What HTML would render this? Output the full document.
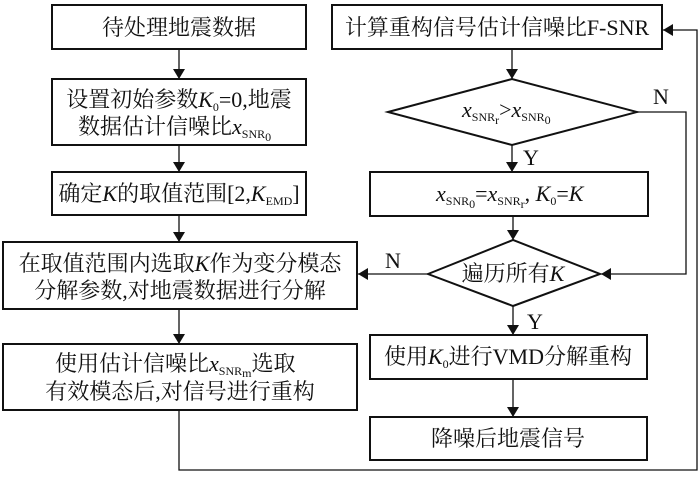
<!DOCTYPE html>
<html><head><meta charset="utf-8"><style>
body{margin:0;background:#fff}
svg text{font-family:"Liberation Serif","Noto Serif CJK SC",serif;font-size:22px;fill:#111}
.s{font-size:12px}
</style></head><body>
<svg width="700" height="474" viewBox="0 0 700 474" xmlns="http://www.w3.org/2000/svg">
<defs><marker id="a" markerWidth="10" markerHeight="12" refX="10" refY="6" orient="auto" markerUnits="userSpaceOnUse"><path d="M0,0 L10,6 L0,12 z" fill="#111"/></marker></defs>
<g fill="none" stroke="#111" stroke-width="2">
<rect x="52" y="5" width="254" height="44"/>
<rect x="52" y="79" width="254" height="66"/>
<rect x="52" y="172" width="254" height="43"/>
<rect x="3" y="242" width="354" height="67"/>
<rect x="3" y="344" width="354" height="66"/>
<rect x="332" y="5" width="330" height="44"/>
<polygon points="388,112 512,79 637,112 512,145"/>
<rect x="370" y="172" width="278" height="44"/>
<polygon points="428,274 513,240 600,274 513,306"/>
<rect x="370" y="335" width="277" height="44"/>
<rect x="370" y="417" width="277" height="43"/>
</g>
<g stroke="#111" stroke-width="1.3" fill="none">
<line x1="179" y1="49" x2="179" y2="79" marker-end="url(#a)"/>
<line x1="179" y1="145" x2="179" y2="172" marker-end="url(#a)"/>
<line x1="179" y1="215" x2="179" y2="242" marker-end="url(#a)"/>
<line x1="179" y1="309" x2="179" y2="344" marker-end="url(#a)"/>
<line x1="512" y1="49" x2="512" y2="79" marker-end="url(#a)"/>
<line x1="512" y1="145" x2="512" y2="172" marker-end="url(#a)"/>
<line x1="513" y1="216" x2="513" y2="240" marker-end="url(#a)"/>
<line x1="513" y1="306" x2="513" y2="335" marker-end="url(#a)"/>
<line x1="513" y1="379" x2="513" y2="417" marker-end="url(#a)"/>
<line x1="428" y1="274" x2="358" y2="274" marker-end="url(#a)"/>
<polyline points="637,112 686,112 686,274 601,274" marker-end="url(#a)"/>
<polyline points="179,410 179,470 697,470 697,30 663,30" marker-end="url(#a)"/>
</g>
<text x="179" y="35" text-anchor="middle">待处理地震数据</text>
<text x="179" y="107" text-anchor="middle">设置初始参数<tspan font-style="italic">K</tspan><tspan class="s" dy="4">0</tspan><tspan dy="-4">=0,地震</tspan></text>
<text x="78" y="134">数据估计信噪比<tspan font-style="italic">x</tspan><tspan class="s" dy="4">SNR</tspan><tspan class="s" dy="3">0</tspan></text>
<text x="179" y="201" text-anchor="middle">确定<tspan font-style="italic">K</tspan>的取值范围[2,<tspan font-style="italic">K</tspan><tspan class="s" dy="4">EMD</tspan><tspan dy="-4">]</tspan></text>
<text x="180" y="271" text-anchor="middle">在取值范围内选取<tspan font-style="italic">K</tspan>作为变分模态</text>
<text x="180" y="298" text-anchor="middle">分解参数,对地震数据进行分解</text>
<text x="55" y="371">使用估计信噪比<tspan font-style="italic">x</tspan><tspan class="s" dy="4">SNR</tspan><tspan class="s" dy="2">m</tspan><tspan dy="-6">选取</tspan></text>
<text x="180" y="399" text-anchor="middle">有效模态后,对信号进行重构</text>
<text x="497" y="35" text-anchor="middle">计算重构信号估计信噪比F-SNR</text>
<text x="462" y="117"><tspan font-style="italic">x</tspan><tspan class="s" dy="4">SNR</tspan><tspan class="s" dy="3">r</tspan><tspan dy="-7">&gt;</tspan><tspan font-style="italic">x</tspan><tspan class="s" dy="4">SNR</tspan><tspan class="s" dy="3">0</tspan></text>
<text x="653" y="104">N</text>
<text x="523" y="165">Y</text>
<text x="436" y="201"><tspan font-style="italic">x</tspan><tspan class="s" dy="4">SNR</tspan><tspan class="s" dy="3">0</tspan><tspan dy="-7">=</tspan><tspan font-style="italic">x</tspan><tspan class="s" dy="4">SNR</tspan><tspan class="s" dy="3">r</tspan><tspan dy="-7">, </tspan><tspan font-style="italic">K</tspan><tspan class="s" dy="4">0</tspan><tspan dy="-4">=</tspan><tspan font-style="italic">K</tspan></text>
<text x="513" y="281" text-anchor="middle">遍历所有<tspan font-style="italic">K</tspan></text>
<text x="385" y="268">N</text>
<text x="527" y="329">Y</text>
<text x="508" y="364" text-anchor="middle">使用<tspan font-style="italic">K</tspan><tspan class="s" dy="4">0</tspan><tspan dy="-4">进行VMD分解重构</tspan></text>
<text x="508" y="446" text-anchor="middle">降噪后地震信号</text>
</svg>
</body></html>
